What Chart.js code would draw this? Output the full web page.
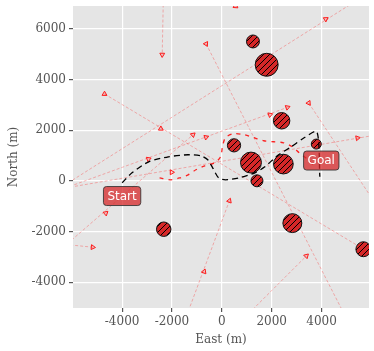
<!DOCTYPE html>
<html>
<head>
<meta charset="utf-8">
<script src="https://cdn.jsdelivr.net/npm/chart.js@4.4.0/dist/chart.umd.min.js"></script>
<style>
  html, body { margin: 0; padding: 0; background: #fff; }
  #wrap { width: 374px; height: 351px; }
</style>
</head>
<body>
<div id="wrap"><canvas id="chart"></canvas></div>
<script>
// tick labels
const xTicks = [-4000, -2000, 0, 2000, 4000];
const yTicks = [-4000, -2000, 0, 2000, 4000, 6000];

// static obstacles, centre east / north and radius (m)
const obsX = [1250, 1800, 2400, 490, 1170, 2470, 1410, 3790, 2830, 5680, -2330];
const obsY = [5500, 4580, 2370, 1400, 720, 660, 0, 1450, -1670, -2700, -1910];
const obsR = [260, 460, 330, 265, 420, 395, 240, 200, 380, 300, 290];

// planned route, start -> goal
const routeX = [-3996, -3602, -2931, -2142, -1353, -840, -564, -367, -130, 146, 698, 1329, 1724, 2276, 2789, 3302, 3815, 3933];
const routeY = [-79, 316, 751, 949, 1028, 988, 830, 514, 119, 40, 119, 316, 553, 1028, 1344, 1700, 1937, 158];

// sailed path
const pathX = [-2497, -2063, -1669, -1353, -1038, -682, -288, -51, 28, 146, 462, 896, 1290, 1685, 2079, 2474, 2829, 3105, 3460, 3697];
const pathY = [119, 40, 119, 237, 435, 593, 712, 949, 1344, 1700, 1858, 1818, 1700, 1581, 1542, 1502, 1344, 1107, 830, 593];

// moving ships: predicted tracks and their positions
const tracks = [
  [[-2339, 7550], [-2391, 4980]],
  [[-631, 5404], [5235, -5890]],
  [[-4706, 3427], [6142, -2965]],
  [[-6482, -356], [2631, 2898]],
  [[-6500, -290], [6000, 7485]],
  [[-6482, -316], [6142, 1799]],
  [[3487, 3071], [6142, -870]],
  [[-6482, -2728], [-1156, 1818]],
  [[-6482, -2490], [-5180, -2621]],
  [[-1550, -5692], [304, -791]],
  [[817, -5495], [3393, -2965]],
  [[552, 6890], [600, 7600]],
  [[-2011, 336]]
];
const trackMarks = [
  [[-2391, 4980]],
  [[-631, 5404]],
  [[-4706, 3427], [-2446, 2056]],
  [[-2943, 858], [-631, 1720], [1933, 2609], [2631, 2898]],
  [[1480, 4700], [4170, 6383]],
  [[5444, 1688]],
  [[3487, 3071]],
  [[-4655, -1277], [-1156, 1818]],
  [[-5180, -2621]],
  [[-710, -3585], [304, -791]],
  [[3393, -2965]],
  [[552, 6890]],
  [[-2011, 336]]
];

// text boxes
const labelText = ['Start', 'Goal'];
const labelX = [-4000, 3990];
const labelY = [-600, 800];

const serif = 'DejaVu Serif';

function hatch() {
  const c = document.createElement('canvas');
  c.width = 6; c.height = 6;
  const g = c.getContext('2d');
  g.fillStyle = '#d62728';
  g.fillRect(0, 0, 6, 6);
  g.strokeStyle = '#000';
  g.lineWidth = 1;
  g.beginPath();
  g.moveTo(0, 6); g.lineTo(6, 0);
  g.moveTo(-1, 1); g.lineTo(1, -1);
  g.moveTo(5, 7); g.lineTo(7, 5);
  g.stroke();
  return g.createPattern(c, 'repeat');
}

const xy = (xs, ys) => xs.map((x, i) => ({ x: x, y: ys[i] }));

const datasets = [];

// ship tracks, faint
tracks.forEach(t => {
  datasets.push({
    data: t.map(p => ({ x: p[0], y: p[1] })),
    showLine: true,
    borderColor: 'rgba(255,0,0,0.28)',
    borderWidth: 1,
    borderDash: [3, 2],
    pointRadius: 0,
    clip: 0,
    order: 5
  });
});

// ship markers
const marks = [];
trackMarks.forEach((ms, i) => {
  const t = tracks[i];
  const a = t[0], b = t[t.length - 1];
  const ang = t.length > 1 ? Math.atan2(-(b[1] - a[1]), b[0] - a[0]) * 180 / Math.PI + 90 : 90;
  ms.forEach(p => marks.push({ x: p[0], y: p[1], rot: ang }));
});
datasets.push({
  data: marks,
  pointStyle: 'triangle',
  pointRadius: 2.8,
  pointBorderColor: '#ff1a1a',
  pointBorderWidth: 1,
  pointBackgroundColor: 'rgba(255,0,0,0.15)',
  pointRotation: ctx => ctx.raw ? ctx.raw.rot : 0,
  clip: 0,
  order: 4
});

// sailed path
datasets.push({
  data: xy(pathX, pathY),
  showLine: true,
  borderColor: 'rgba(255,0,0,0.85)',
  borderWidth: 1.3,
  borderDash: [4, 5],
  tension: 0.3,
  pointRadius: 0,
  clip: 0,
  order: 3
});

// planned route
datasets.push({
  data: xy(routeX, routeY),
  showLine: true,
  borderColor: '#000',
  borderWidth: 1.3,
  borderDash: [6, 4],
  tension: 0.25,
  pointRadius: 0,
  clip: 0,
  order: 1
});

// obstacles
datasets.push({
  data: xy(obsX, obsY),
  pointRadius: ctx => {
    const s = ctx.chart.scales.x;
    return Math.abs(s.getPixelForValue(obsR[ctx.dataIndex]) - s.getPixelForValue(0));
  },
  pointBackgroundColor: hatch(),
  pointBorderColor: '#111',
  pointBorderWidth: 1,
  clip: 0,
  order: 2
});

const panelBg = {
  id: 'panelBg',
  beforeDraw(chart) {
    const { ctx, chartArea: a } = chart;
    ctx.save();
    ctx.fillStyle = '#e5e5e5';
    ctx.fillRect(a.left, a.top, a.right - a.left, a.bottom - a.top);
    ctx.restore();
  }
};

const boxes = {
  id: 'boxes',
  afterDatasetsDraw(chart) {
    const { ctx } = chart;
    const sx = chart.scales.x, sy = chart.scales.y;
    ctx.save();
    ctx.font = '12px "DejaVu Sans"';
    ctx.textAlign = 'center';
    ctx.textBaseline = 'middle';
    labelText.forEach((txt, i) => {
      const px = sx.getPixelForValue(labelX[i]);
      const py = sy.getPixelForValue(labelY[i]);
      const w = ctx.measureText(txt).width + 8;
      const h = 19;
      ctx.beginPath();
      ctx.roundRect(px - w / 2, py - h / 2, w, h, 3);
      ctx.fillStyle = 'rgba(214,39,40,0.75)';
      ctx.fill();
      ctx.strokeStyle = 'rgba(50,50,50,0.85)';
      ctx.lineWidth = 1;
      ctx.stroke();
      ctx.fillStyle = '#fff';
      ctx.fillText(txt, px, py + 0.5);
    });
    ctx.restore();
  }
};

const axisFont = { family: serif, size: 12 };

new Chart(document.getElementById('chart'), {
  type: 'scatter',
  data: { datasets: datasets },
  options: {
    responsive: true,
    maintainAspectRatio: false,
    animation: false,
    events: [],
    layout: { padding: { top: 6, right: 0, bottom: 0, left: 0 } },
    plugins: { legend: { display: false }, tooltip: { enabled: false } },
    scales: {
      x: {
        type: 'linear',
        min: -5970,
        max: 5905,
        afterBuildTicks: s => { s.ticks = xTicks.map(v => ({ value: v })); },
        afterFit: s => { s.height = 43; s.paddingLeft = 0; s.paddingRight = 0; },
        border: { display: false },
        grid: { color: '#fff', lineWidth: 1.2, tickColor: '#555', tickLength: 4 },
        ticks: { color: '#555', font: axisFont, padding: 3, maxRotation: 0, callback: v => String(v) },
        title: { display: true, text: 'East (m)', color: '#555', font: axisFont, padding: { top: 0, bottom: 4 } }
      },
      y: {
        type: 'linear',
        min: -5020,
        max: 6900,
        afterBuildTicks: s => { s.ticks = yTicks.map(v => ({ value: v })); },
        afterFit: s => { s.width = 73; s.paddingTop = 0; s.paddingBottom = 0; },
        border: { display: false },
        grid: { color: '#fff', lineWidth: 1.2, tickColor: '#555', tickLength: 4 },
        ticks: { color: '#555', font: axisFont, padding: 3, callback: v => String(v) },
        title: { display: true, text: 'North (m)', color: '#555', font: axisFont, padding: { top: 7, bottom: 0 } }
      }
    }
  },
  plugins: [panelBg, boxes]
});
</script>
</body>
</html>
